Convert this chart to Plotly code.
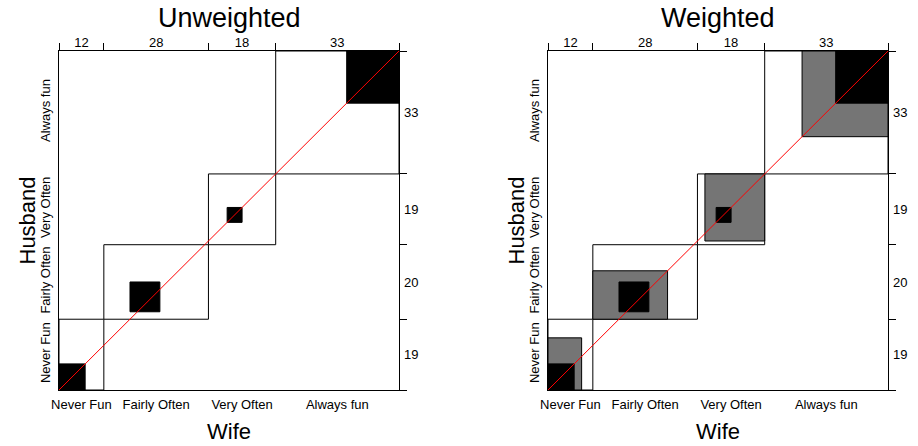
import plotly.graph_objects as go

# Husband (rows) by Wife (columns) ratings of sexual fun
levels_wife = ["Never Fun", "Fairly Often", "Very Often", "Always fun"]
levels_husband = ["Never Fun", "Fairly Often", "Very Often", "Always fun"]
counts = [
    [7, 7, 2, 3],
    [2, 8, 3, 7],
    [1, 5, 4, 9],
    [2, 8, 9, 14],
]
# agreement weights: exact, and one step off the diagonal
weights_full = [1.0, 1.0 - 1.0 / (len(levels_wife) - 1) ** 2]
panels = [("Unweighted", weights_full[:1]), ("Weighted", weights_full)]

W, H = 918, 446
FONT = "Liberation Sans, Arial, sans-serif"

n = len(levels_wife)
col_tot = [sum(counts[r][c] for r in range(n)) for c in range(n)]
row_tot = [sum(counts[r]) for r in range(n)]
N = sum(row_tot)
xc = [0]
for v in col_tot:
    xc.append(xc[-1] + v)
yc = [0]
for v in row_tot:
    yc.append(yc[-1] + v)
x_mid = [(xc[i] + xc[i + 1]) / 2 for i in range(n)]
y_mid = [(yc[i] + yc[i + 1]) / 2 for i in range(n)]


def gray(w):
    g = round(255 * (1 - w ** 2) ** 0.5)
    return f"rgb({g},{g},{g})"


# pixel layout of the two panels
plot_left = [59, 548]
plot_w = 340
plot_top, plot_bottom = 51, 390

fig = go.Figure()
shapes = []
annotations = []

for p, (title, wts) in enumerate(panels):
    xa = "x" if p == 0 else f"x{p + 1}"
    ya = "y" if p == 0 else f"y{p + 1}"
    xt = f"x{p + 3}"
    yr = f"y{p + 3}"

    for i in range(n):
        shapes.append(dict(type="rect", xref=xa, yref=ya,
                           x0=xc[i], x1=xc[i + 1], y0=yc[i], y1=yc[i + 1],
                           fillcolor="white", line=dict(color="black", width=1),
                           layer="below"))
        for j in reversed(range(len(wts))):
            lo = max(0, i - j)
            hi = min(n - 1, i + j)
            x0 = xc[i] + sum(counts[k][i] for k in range(0, lo))
            wd = sum(counts[k][i] for k in range(lo, hi + 1))
            y0 = yc[i] + sum(counts[i][k] for k in range(0, lo))
            ht = sum(counts[i][k] for k in range(lo, hi + 1))
            shapes.append(dict(type="rect", xref=xa, yref=ya,
                               x0=x0, x1=x0 + wd, y0=y0, y1=y0 + ht,
                               fillcolor=gray(wts[j]),
                               line=dict(color="black", width=1),
                               layer="below"))

    fig.add_trace(go.Scatter(x=[0, N], y=[0, N], mode="lines",
                             line=dict(color="red", width=1),
                             xaxis=xa, yaxis=ya, hoverinfo="skip",
                             showlegend=False))
    # invisible traces so the top and right count axes are drawn
    fig.add_trace(go.Scatter(x=[0, N], y=[0, N], mode="markers",
                             marker=dict(opacity=0), xaxis=xt, yaxis=ya,
                             hoverinfo="skip", showlegend=False))
    fig.add_trace(go.Scatter(x=[0, N], y=[0, N], mode="markers",
                             marker=dict(opacity=0), xaxis=xa, yaxis=yr,
                             hoverinfo="skip", showlegend=False))

    x0p = plot_left[p] / W
    x1p = (plot_left[p] + plot_w) / W
    y0p = 1 - plot_bottom / H
    y1p = 1 - plot_top / H
    tf = dict(family=FONT, size=13, color="black")

    base = dict(range=[0, N], showgrid=False, zeroline=False,
                fixedrange=True, tickfont=tf, automargin=False)
    fig.layout[f"xaxis{'' if p == 0 else p + 1}"] = dict(
        base, domain=[x0p, x1p], anchor=ya, tickmode="array",
        tickvals=x_mid, ticktext=levels_wife, ticks="", ticklabelstandoff=2,
        showline=True, mirror=True, linecolor="black", linewidth=1)
    fig.layout[f"yaxis{'' if p == 0 else p + 1}"] = dict(
        base, domain=[y0p, y1p], anchor=xa, tickmode="array",
        tickvals=y_mid, ticktext=levels_husband, ticks="", tickangle=-90,
        ticklabelstandoff=3,
        showline=True, mirror=True, linecolor="black", linewidth=1)
    fig.layout[f"xaxis{p + 3}"] = dict(
        base, overlaying=xa, side="top", anchor=ya, tickmode="array",
        tickvals=x_mid, ticktext=[str(v) for v in col_tot], ticks="",
        showline=False,
        minor=dict(tickmode="array", tickvals=xc, ticks="outside",
                   ticklen=7, tickcolor="black", tickwidth=1))
    fig.layout[f"yaxis{p + 3}"] = dict(
        base, overlaying=ya, side="right", anchor=xa, tickmode="array",
        tickvals=y_mid, ticktext=[str(v) for v in row_tot], ticks="",
        showline=False, ticklabelstandoff=4,
        minor=dict(tickmode="array", tickvals=yc, ticks="outside",
                   ticklen=7, tickcolor="black", tickwidth=1))

    cx = (plot_left[p] + plot_w / 2) / W
    annotations.append(dict(text=title, x=cx, y=1 - 18 / H, xref="paper",
                            yref="paper", showarrow=False, xanchor="center",
                            yanchor="middle",
                            font=dict(family=FONT, size=27, color="black")))
    annotations.append(dict(text="Wife", x=cx, y=1 - 431 / H, xref="paper",
                            yref="paper", showarrow=False, xanchor="center",
                            yanchor="middle",
                            font=dict(family=FONT, size=22, color="black")))
    annotations.append(dict(text="Husband", x=(plot_left[p] - 32) / W,
                            y=1 - (plot_top + plot_bottom) / 2 / H,
                            xref="paper", yref="paper", showarrow=False,
                            xanchor="center", yanchor="middle", textangle=-90,
                            font=dict(family=FONT, size=22, color="black")))

fig.update_layout(
    width=W, height=H,
    margin=dict(l=0, r=0, t=0, b=0, autoexpand=False),
    paper_bgcolor="white", plot_bgcolor="white",
    shapes=shapes, annotations=annotations,
    showlegend=False,
)

fig.write_html("out.html", config={"displayModeBar": False})
